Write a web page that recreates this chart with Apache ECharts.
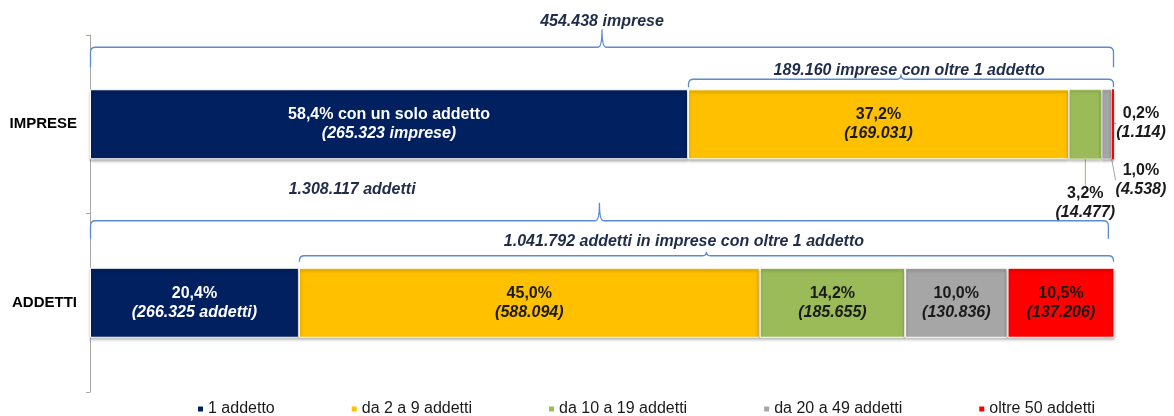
<!DOCTYPE html>
<html>
<head>
<meta charset="utf-8">
<script src="https://cdn.jsdelivr.net/npm/echarts@6/dist/echarts.min.js"></script>
<style>
  html, body { margin: 0; padding: 0; background: #fff; }
  #chart { width: 1174px; height: 416px; }
</style>
</head>
<body>
<div id="chart"></div>
<script>
// categorie e classi di addetti
const categories = ['IMPRESE', 'ADDETTI']
const classNames = ['1 addetto', 'da 2 a 9 addetti', 'da 10 a 19 addetti', 'da 20 a 49 addetti', 'oltre 50 addetti']
const classColors = ['#002060', '#FFC000', '#9BBB59', '#A6A6A6', '#FF0000']

// quote percentuali per classe
const impresePct = [58.4, 37.2, 3.2, 1.0, 0.2]
const addettiPct = [20.4, 45.0, 14.2, 10.0, 10.5]

// valori assoluti (etichette)
const impreseCount = ['265.323', '169.031', '14.477', '4.538', '1.114']
const addettiCount = ['266.325', '588.094', '185.655', '130.836', '137.206']

// parentesi graffe sopra le barre
const braceCat = [0, 0, 1, 1]
const braceFrom = [0, 58.4, 0, 20.4]
const braceTo = [100, 100, 99.5, 100]
const braceText = [
  '454.438 imprese',
  '189.160 imprese con oltre 1 addetto',
  '1.308.117 addetti',
  '1.041.792 addetti in imprese con oltre 1 addetto'
]

// stile graffe (offset in px dal bordo superiore della barra)
const braceStyle = [
  { line: -42, end: -22, nub: -60, label: -68, labelAt: 50 },
  { line: -10, end: -2, nub: -15, label: -19, labelAt: 80 },
  { line: -47, end: -29, nub: -65, label: -78, labelAt: 25.6 },
  { line: -12, end: -6, nub: -16, label: -26, labelAt: 58 }
]

const FONT = '"Liberation Sans", Arial, sans-serif'
const BAR_W = 70

const pct = v => v.toFixed(1).replace('.', ',') + '%'

const richFor = color => ({
  a: { color, fontFamily: FONT, fontSize: 16, fontWeight: 'bold', lineHeight: 19 },
  b: { color, fontFamily: FONT, fontSize: 16, fontWeight: 'bold', fontStyle: 'italic', lineHeight: 19 }
})

// etichette esterne per le fette piccole delle imprese
const outside = {
  2: {
    pos: r => [r.x + r.width / 2, r.y + r.height + 44],
    line: r => [[r.x + r.width / 2 + 3, r.y + r.height + 1], [r.x + r.width / 2 - 1, r.y + r.height + 27]]
  },
  3: {
    pos: r => [r.x + r.width + 29, r.y + r.height + 21],
    line: r => [[r.x + 2, r.y + r.height], [r.x + r.width + 19, r.y + r.height + 17]]
  },
  4: {
    pos: r => [r.x + r.width + 27, r.y + r.height / 2 - 1],
    line: r => [[r.x + r.width, r.y + r.height / 2], [r.x + r.width + 13, r.y + r.height / 2]]
  }
}

const barSeries = classNames.map((name, s) => {
  const textColor = s === 0 ? '#fff' : '#1a1a1a'
  const impText = s === 0
    ? `{a|${pct(impresePct[s])} con un solo addetto}\n{b|(${impreseCount[s]} imprese)}`
    : `{a|${pct(impresePct[s])}}\n{b|(${impreseCount[s]})}`
  const addText = s === 0
    ? `{a|${pct(addettiPct[s])}}\n{b|(${addettiCount[s]} addetti)}`
    : `{a|${pct(addettiPct[s])}}\n{b|(${addettiCount[s]})}`
  const isOut = outside[s] !== undefined
  return {
    name,
    type: 'bar',
    stack: 'tot',
    barWidth: BAR_W,
    itemStyle: {
      color: classColors[s],
      borderColor: '#fff',
      borderWidth: 1,
      shadowColor: 'rgba(0,0,0,0.35)',
      shadowBlur: 3,
      shadowOffsetY: 2
    },
    label: {
      show: true,
      position: 'inside',
      align: 'center',
      verticalAlign: 'middle',
      rich: richFor(textColor)
    },
    labelLayout: isOut ? (p) => {
      if (p.dataIndex !== 0) return {}
      const [x, y] = outside[s].pos(p.rect)
      return { x, y, align: 'center', verticalAlign: 'middle', labelLinePoints: outside[s].line(p.rect) }
    } : undefined,
    data: [
      {
        value: impresePct[s],
        // fette sottili: bordo ridotto per non coprirle
        itemStyle: isOut ? { borderWidth: s === 4 ? 0 : 0.6 } : {},
        label: { formatter: impText, rich: richFor(isOut ? '#1a1a1a' : textColor) },
        labelLine: isOut ? { show: true, lineStyle: { color: s === 4 ? '#F46A6A' : classColors[s], width: 1 } } : { show: false }
      },
      {
        value: addettiPct[s],
        label: { formatter: addText },
        labelLine: { show: false }
      }
    ]
  }
})

const braceSeries = {
  type: 'custom',
  coordinateSystem: 'cartesian2d',
  silent: true,
  z: 5,
  encode: { x: [0, 1], y: 2 },
  data: braceCat.map((c, i) => [braceFrom[i], braceTo[i], c, i]),
  renderItem: (params, api) => {
    const idx = api.value(3)
    const st = braceStyle[idx]
    const p0 = api.coord([api.value(0), api.value(2)])
    const p1 = api.coord([api.value(1), api.value(2)])
    const top = p0[1] - BAR_W / 2
    const x0 = p0[0] + 0.5
    const x1 = p1[0] - 0.5
    const yl = top + st.line
    const ye = top + st.end
    const yn = top + st.nub
    const xm = (x0 + x1) / 2
    const r = 5
    const d = `M${x0},${ye} L${x0},${yl + r} Q${x0},${yl} ${x0 + r},${yl} ` +
      `L${xm - 4},${yl} Q${xm},${yl} ${xm},${yn} Q${xm},${yl} ${xm + 4},${yl} ` +
      `L${x1 - r},${yl} Q${x1},${yl} ${x1},${yl + r} L${x1},${ye}`
    const lx = api.coord([st.labelAt, api.value(2)])[0]
    return {
      type: 'group',
      children: [
        {
          type: 'path',
          shape: { pathData: d },
          style: { stroke: '#5B8BD0', lineWidth: 1.3, fill: null }
        },
        {
          type: 'text',
          x: lx,
          y: top + st.label,
          style: {
            text: braceText[idx],
            fill: '#1F2D4A',
            font: `italic bold 16px ${FONT}`,
            align: 'center',
            verticalAlign: 'middle'
          }
        }
      ]
    }
  }
}

const chart = echarts.init(document.getElementById('chart'))
chart.setOption({
  animation: false,
  color: classColors,
  textStyle: { fontFamily: FONT },
  grid: { left: 90, right: 60, top: 35, bottom: 24, containLabel: false },
  legend: {
    data: classNames,
    left: 191,
    top: 396,
    icon: 'rect',
    itemWidth: 7,
    itemHeight: 7,
    itemGap: 75,
    textStyle: { fontFamily: FONT, fontSize: 16, color: '#1a1a1a', padding: [0, 0, 0, -1] }
  },
  xAxis: {
    type: 'value',
    min: 0,
    max: 100,
    show: false
  },
  yAxis: {
    type: 'category',
    data: categories,
    inverse: true,
    axisLine: { show: true, lineStyle: { color: '#A6A6A6', width: 1 } },
    axisTick: { show: true, length: 4, lineStyle: { color: '#A6A6A6' } },
    axisLabel: { fontFamily: FONT, fontSize: 15, fontWeight: 'bold', color: '#000', margin: 13 },
    splitLine: { show: false }
  },
  series: [...barSeries, braceSeries]
})

window.addEventListener('resize', () => chart.resize())
</script>
</body>
</html>
